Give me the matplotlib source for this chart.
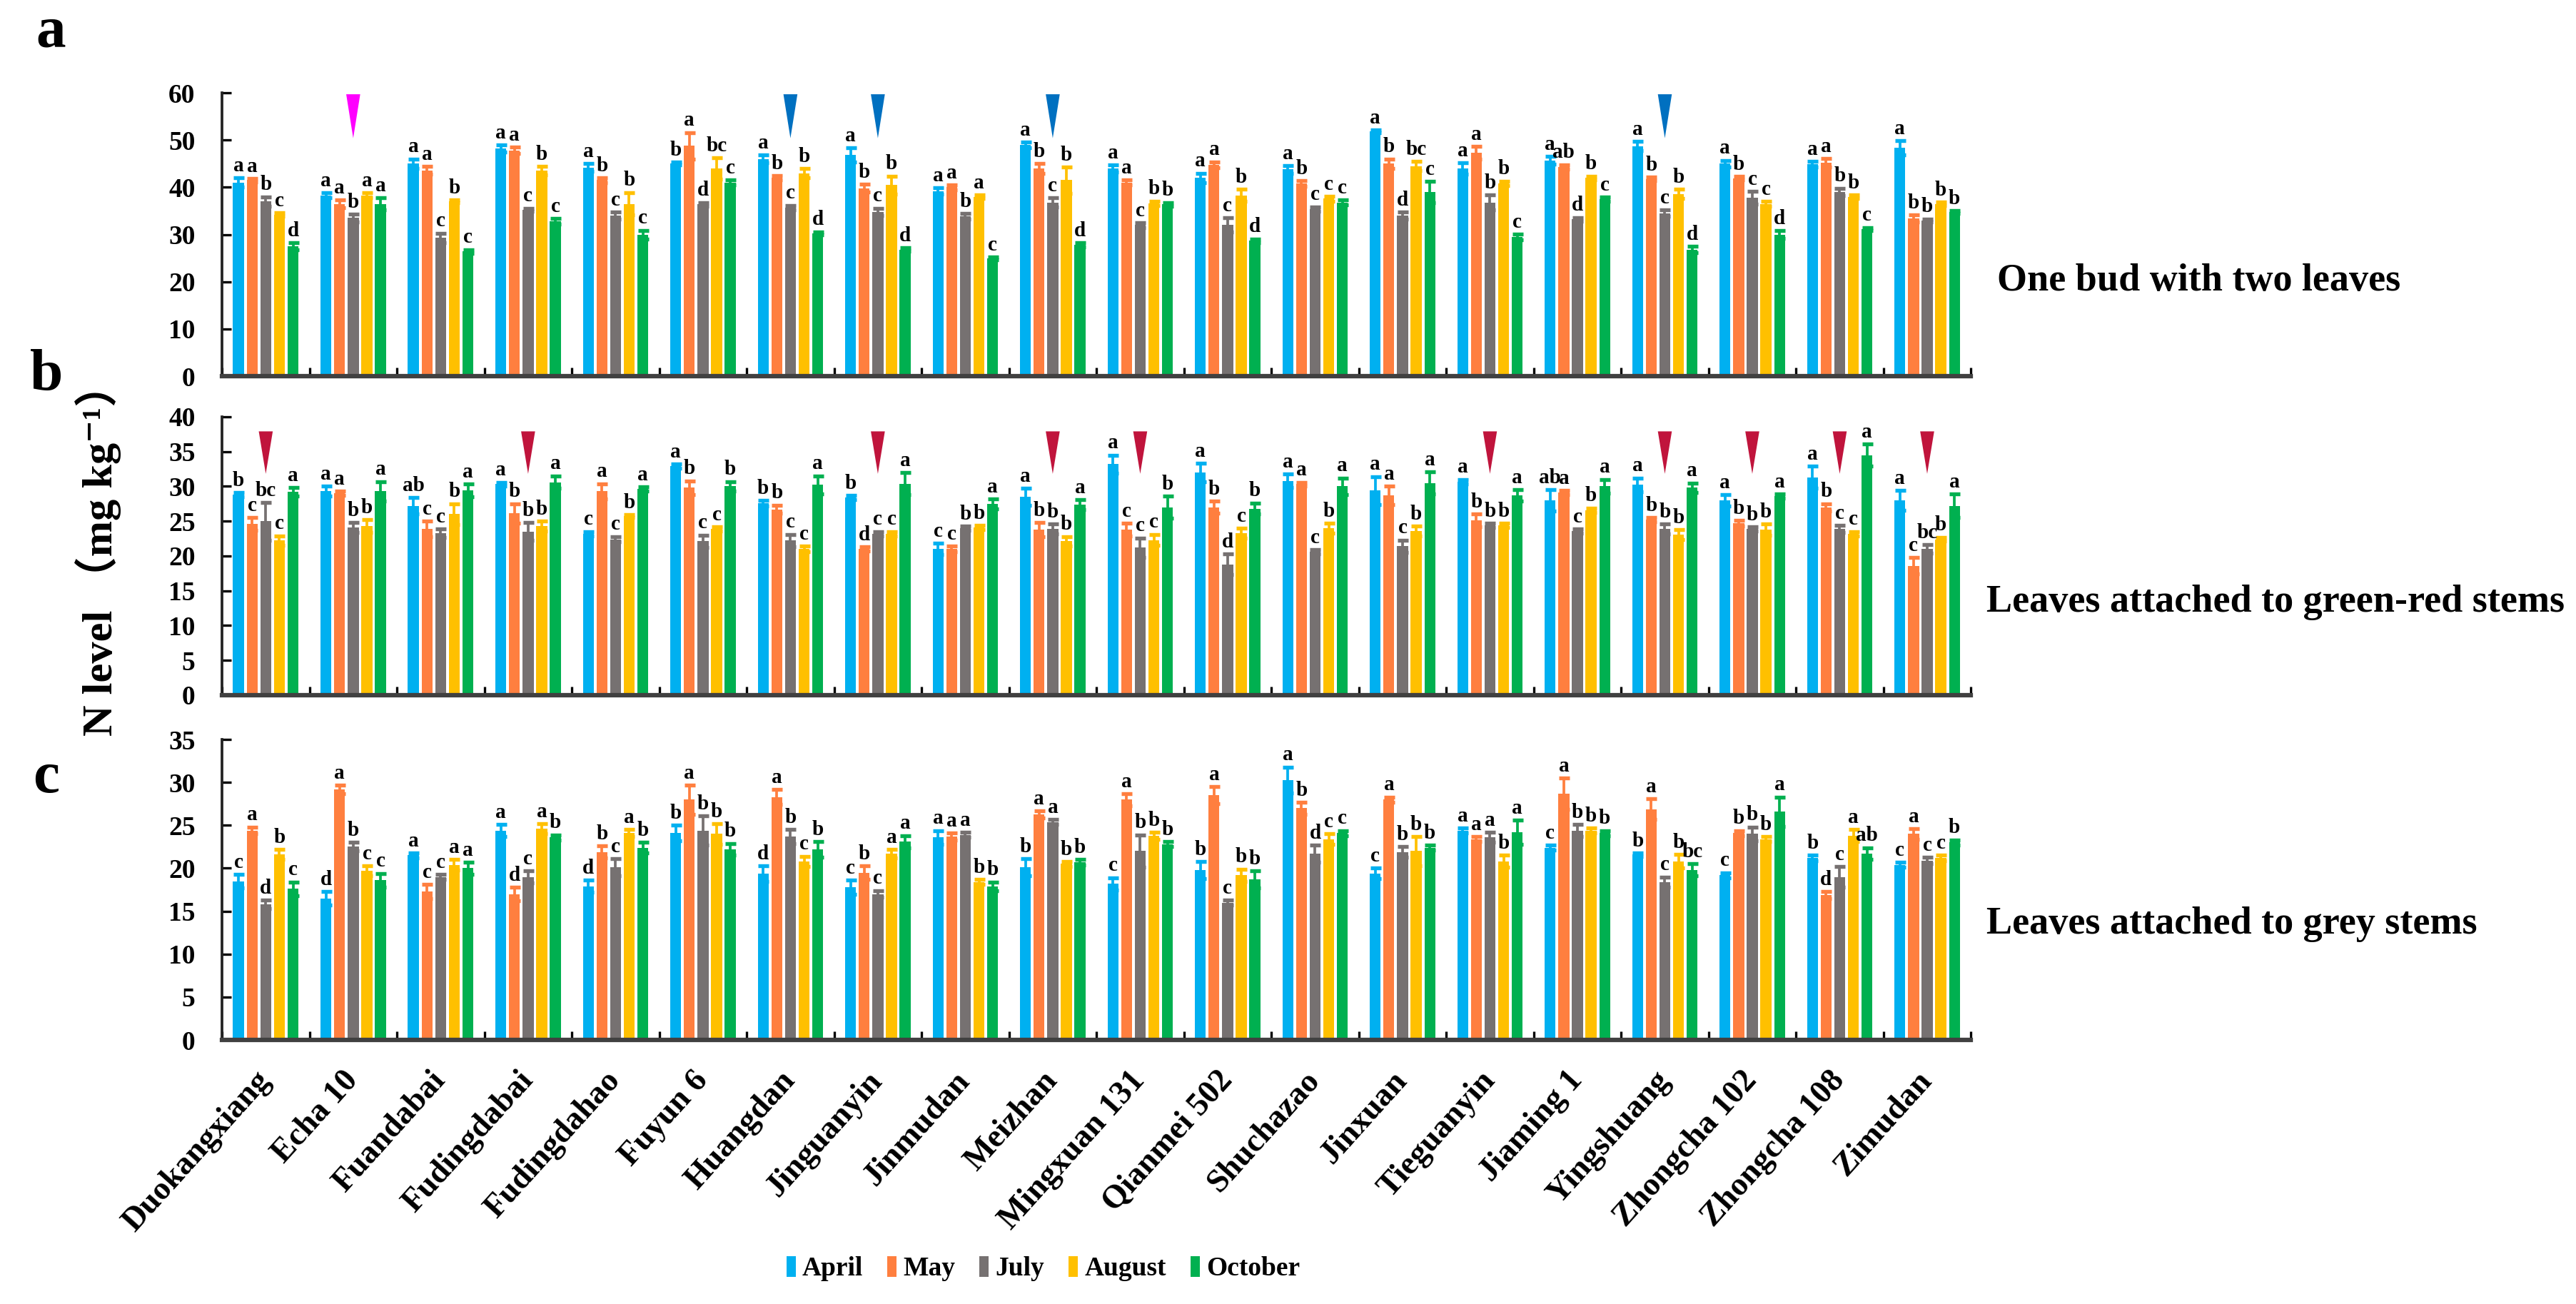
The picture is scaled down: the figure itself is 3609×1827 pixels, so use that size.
import numpy as np
import matplotlib
matplotlib.use("Agg")
import matplotlib.pyplot as plt
from matplotlib.patches import Patch

plt.rcParams['font.family'] = ['Liberation Serif', 'Noto Sans CJK SC', 'DejaVu Serif']
plt.rcParams['font.weight'] = 'bold'

# Categories and series
cultivars = ["Duokangxiang", "Echa 10", "Fuandabai", "Fudingdabai", "Fudingdahao",
             "Fuyun 6", "Huangdan", "Jinguanyin", "Jinmudan", "Meizhan",
             "Mingxuan 131", "Qianmei 502", "Shuchazao", "Jinxuan", "Tieguanyin",
             "Jiaming 1", "Yingshuang", "Zhongcha 102", "Zhongcha 108", "Zimudan"]
months = ["April", "May", "July", "August", "October"]
colors = ["#00B0F0", "#FF7F3F", "#767171", "#FFC000", "#00B050"]

# Panel a: one bud with two leaves (rows = cultivars, cols = months)
a_vals = [[41.0, 41.5, 37.0, 34.2, 27.5], [38.3, 36.5, 33.5, 38.3, 36.5],
          [45.0, 43.6, 29.3, 37.0, 26.4], [48.2, 47.8, 35.3, 43.5, 32.8],
          [44.2, 41.5, 34.0, 36.5, 30.0], [45.0, 48.8, 36.4, 44.0, 41.0],
          [46.0, 42.0, 35.7, 43.0, 30.3], [46.8, 39.8, 34.8, 40.5, 26.8],
          [39.2, 40.0, 33.8, 38.0, 24.9], [49.0, 44.0, 36.8, 41.5, 27.8],
          [44.0, 41.0, 32.0, 36.6, 36.4], [42.0, 44.8, 32.0, 38.3, 28.7],
          [43.8, 40.8, 35.4, 37.6, 36.8], [51.8, 45.0, 34.0, 44.5, 39.0],
          [44.0, 47.3, 36.8, 40.8, 29.5], [45.7, 44.3, 33.2, 42.0, 37.5],
          [48.7, 41.8, 34.5, 38.6, 26.8], [45.0, 41.9, 37.8, 36.5, 30.0],
          [44.9, 45.2, 39.0, 38.0, 31.2], [48.4, 33.4, 33.0, 36.5, 34.8]]
a_err = [[1.0, 0.4, 1.0, 0.4, 0.8], [0.5, 0.8, 0.8, 0.5, 1.3],
         [1.0, 0.8, 1.0, 0.3, 0.4], [0.8, 0.7, 0.3, 0.9, 0.6],
         [0.8, 0.5, 0.7, 2.4, 0.9], [0.3, 2.8, 0.4, 2.2, 0.5],
         [0.8, 0.5, 0.5, 1.0, 0.3], [1.5, 0.8, 0.8, 1.9, 0.4],
         [0.7, 0.5, 0.6, 0.4, 0.3], [0.6, 1.0, 1.0, 2.8, 0.4],
         [0.7, 0.5, 0.5, 0.5, 0.4], [1.0, 0.6, 1.5, 1.3, 0.4],
         [0.8, 0.6, 0.5, 0.5, 0.5], [0.3, 1.0, 0.7, 1.0, 2.2],
         [1.2, 1.4, 1.6, 0.5, 0.6], [0.8, 0.5, 0.4, 0.4, 0.4],
         [1.0, 0.4, 0.7, 1.0, 0.7], [0.7, 0.4, 1.3, 0.5, 0.8],
         [0.6, 0.9, 0.8, 0.4, 0.3], [1.5, 0.7, 0.3, 0.4, 0.3]]
a_letters = ["a a b c d", "a a b a a", "a a c b c", "a a c b c", "a b c b c",
             "b a d bc c", "a b c b d", "a b c b d", "a a b a c", "a b c b d",
             "a a c b b", "a a c b d", "a b c c c", "a b d bc c", "a a b b c",
             "a ab d b c", "a b c b d", "a b c c d", "a a b b c", "a b b b b"]

# Panel b: leaves attached to green-red stems
b_vals = [[28.8, 24.6, 25.0, 22.2, 29.2], [29.3, 29.0, 24.1, 24.3, 29.3],
          [27.2, 23.9, 23.3, 26.0, 29.4], [30.3, 26.1, 23.5, 24.3, 30.6],
          [23.2, 29.3, 22.4, 25.7, 29.6], [32.9, 29.8, 22.1, 23.9, 30.0],
          [27.6, 26.7, 22.2, 21.0, 30.2], [28.4, 21.0, 23.2, 23.2, 30.4],
          [21.0, 21.0, 24.0, 24.1, 27.5], [28.5, 23.8, 23.9, 22.1, 27.4],
          [33.2, 23.8, 21.2, 22.3, 27.0], [32.0, 27.0, 18.8, 23.3, 26.8],
          [30.8, 30.3, 20.6, 24.0, 30.0], [29.4, 28.7, 21.4, 23.6, 30.5],
          [30.7, 25.1, 24.4, 24.4, 28.7], [28.0, 29.1, 23.6, 26.6, 30.0],
          [30.2, 25.2, 23.9, 23.1, 29.8], [28.0, 24.7, 23.9, 23.8, 28.6],
          [31.3, 27.0, 23.9, 23.2, 34.5], [28.0, 18.6, 21.0, 22.4, 27.2]]
b_err = [[0.3, 0.9, 2.7, 0.7, 0.6], [0.7, 0.3, 0.7, 0.9, 1.4],
         [1.2, 1.1, 0.6, 1.5, 0.9], [0.3, 1.4, 1.3, 0.7, 0.9],
         [0.3, 1.1, 0.4, 0.2, 0.3], [0.3, 1.0, 0.9, 0.3, 0.7],
         [0.4, 0.6, 0.9, 0.4, 1.3], [0.3, 0.3, 0.3, 0.3, 1.6],
         [0.8, 0.4, 0.3, 0.3, 0.7], [1.2, 1.0, 0.7, 0.7, 0.7],
         [1.3, 0.9, 1.4, 0.8, 1.6], [1.3, 0.9, 1.5, 0.7, 0.8],
         [1.0, 0.3, 0.3, 0.7, 1.2], [2.0, 1.3, 0.9, 0.7, 1.6],
         [0.3, 0.9, 0.3, 0.3, 0.8], [1.5, 0.3, 0.3, 0.3, 1.0],
         [1.0, 0.3, 0.7, 0.7, 0.7], [0.8, 0.4, 0.3, 0.8, 0.3],
         [1.6, 0.5, 0.5, 0.3, 1.6], [1.4, 1.2, 0.6, 0.3, 1.7]]
b_letters = ["b c bc c a", "a a b b a", "ab c c b a", "a b b b a", "c a c b a",
             "a b c c b", "b b c c a", "b d c c a", "c c b b a", "a b b b a",
             "a c c c b", "a b d c b", "a a c b a", "a a c b a", "a b b b a",
             "ab a c b a", "a b b b a", "a b b b a", "a b c c a", "a c bc b a"]

# Panel c: leaves attached to grey stems
c_vals = [[18.5, 24.4, 15.8, 21.6, 17.6], [16.5, 29.2, 22.5, 19.7, 18.6],
          [21.5, 17.3, 19.0, 20.4, 20.0], [24.4, 17.0, 19.0, 24.6, 23.6],
          [17.9, 21.9, 20.1, 24.1, 22.4], [24.1, 28.0, 24.4, 24.0, 22.2],
          [19.4, 28.3, 23.7, 20.8, 22.2], [17.8, 19.5, 17.0, 21.7, 23.1],
          [23.6, 23.7, 23.9, 18.4, 17.9], [20.1, 26.3, 25.4, 20.5, 20.7],
          [18.2, 28.0, 22.0, 23.8, 22.8], [19.8, 28.5, 16.0, 19.2, 18.7],
          [30.3, 27.0, 21.7, 23.4, 24.1], [19.4, 28.0, 21.9, 22.0, 22.4],
          [24.4, 23.4, 23.6, 20.8, 24.2], [22.4, 28.7, 24.4, 24.4, 24.1],
          [21.6, 26.9, 18.4, 20.8, 19.8], [19.2, 24.1, 24.0, 23.4, 26.6],
          [21.2, 16.9, 19.0, 23.8, 21.7], [20.4, 24.0, 20.9, 21.2, 23.0]]
c_err = [[0.8, 0.4, 0.5, 0.6, 0.8], [0.8, 0.5, 0.5, 0.6, 0.8],
         [0.3, 0.8, 0.3, 0.6, 0.7], [0.7, 0.8, 0.7, 0.6, 0.3],
         [0.7, 0.7, 1.0, 0.4, 0.6], [0.9, 1.7, 1.7, 1.2, 0.7],
         [0.9, 0.9, 0.8, 0.6, 0.9], [0.8, 0.8, 0.4, 0.5, 0.7],
         [0.8, 0.4, 0.3, 0.3, 0.5], [1.0, 0.4, 0.3, 0.3, 0.3],
         [0.7, 0.7, 1.9, 0.4, 0.3], [1.0, 1.0, 0.3, 0.7, 1.0],
         [1.5, 0.7, 1.0, 0.6, 0.3], [0.6, 0.3, 0.6, 1.7, 0.3],
         [0.3, 0.3, 0.6, 0.7, 1.4], [0.3, 1.8, 0.7, 0.3, 0.3],
         [0.2, 1.2, 0.6, 0.8, 0.7], [0.3, 0.3, 0.8, 0.3, 1.7],
         [0.3, 0.4, 1.2, 0.7, 0.7], [0.3, 0.6, 0.4, 0.3, 0.3]]
c_letters = ["c a d b c", "d a b c c", "a c c a a", "a d c a b", "d b c a b",
             "b a b b b", "d a b c b", "c b c a a", "a a a b b", "b a a b b",
             "c a b b b", "b a c b b", "a b d c c", "c a b b b", "a a a b a",
             "c a b b b", "b a c b bc", "c b b b a", "b d c a ab", "c a c c b"]

# Arrowhead markers (cultivar indices)
a_pink_marks = [1]
a_blue_marks = [6, 7, 9, 16]
b_red_marks = [0, 3, 7, 9, 10, 14, 16, 17, 18, 19]

x = np.arange(len(cultivars)) + 0.5
offsets = (np.arange(5) - 2) * 0.156
width = 0.125

fig = plt.figure(figsize=(3609 / 300, 1827 / 300), dpi=300)


def draw_panel(ax, vals, errs, letters, ymax, ystep):
    vals = np.array(vals)
    errs = np.array(errs)
    for j in range(5):
        ax.bar(x + offsets[j], vals[:, j], width, color=colors[j],
               yerr=errs[:, j], zorder=2,
               error_kw=dict(ecolor=colors[j], elinewidth=0.9, capsize=1.8, capthick=1.3))
        for i in range(len(cultivars)):
            ax.annotate(letters[i].split()[j], (x[i] + offsets[j], vals[i, j] + errs[i, j]),
                        xytext=(0, 0.8), textcoords='offset points',
                        ha='center', va='bottom', fontsize=7)
    ax.set_xlim(0, len(cultivars))
    ax.set_ylim(0, ymax)
    ax.set_yticks(np.arange(0, ymax + 1, ystep))
    ax.set_xticks(np.arange(0, len(cultivars) + 1))
    ax.set_xticklabels([])
    ax.tick_params(axis='both', which='major', direction='in', length=3, width=0.8,
                   labelsize=9, pad=9)
    for s in ['top', 'right']:
        ax.spines[s].set_visible(False)
    ax.spines['left'].set_linewidth(0.9)
    ax.spines['left'].set_color('#222222')
    ax.spines['bottom'].set_linewidth(1.5)
    ax.spines['bottom'].set_color('#404040')


def wedge(ax, idx, top, tip, color):
    w = 0.08
    ax.fill([x[idx] - w, x[idx] + w, x[idx]], [top, top, tip], color=color,
            lw=0, clip_on=False, zorder=3)


ax_a = fig.add_axes([0.0862, 0.7115, 0.6789, 0.2173])
ax_b = fig.add_axes([0.0862, 0.4669, 0.6789, 0.2135])
ax_c = fig.add_axes([0.0862, 0.2025, 0.6789, 0.2304])

draw_panel(ax_a, a_vals, a_err, a_letters, 60, 10)
draw_panel(ax_b, b_vals, b_err, b_letters, 40, 5)
draw_panel(ax_c, c_vals, c_err, c_letters, 35, 5)

for i in a_pink_marks:
    wedge(ax_a, i, 59.7, 50.4, '#FF00FF')
for i in a_blue_marks:
    wedge(ax_a, i, 59.7, 50.4, '#0070C0')
for i in b_red_marks:
    wedge(ax_b, i, 37.9, 31.8, '#C0143C')

ax_c.set_xticks(x, minor=True)
ax_c.set_xticklabels(cultivars, minor=True, rotation=48, ha='right', va='center',
                     rotation_mode='anchor', fontsize=11)
ax_c.tick_params(axis='x', which='minor', length=0, pad=12)

# Panel letters and tissue names
fig.text(0.0139, 0.9639, "a", fontsize=20, va='baseline')
fig.text(0.0116, 0.7011, "b", fontsize=20, va='baseline')
fig.text(0.0127, 0.3924, "c", fontsize=20, va='baseline')
fig.text(0.7753, 0.7772, "One bud with two leaves", fontsize=13, va='baseline')
fig.text(0.7711, 0.5309, "Leaves attached to green-red stems", fontsize=13, va='baseline')
fig.text(0.7711, 0.2841, "Leaves attached to grey stems", fontsize=13, va='baseline')
fig.text(0.0382, 0.5785, "N level （mg kg⁻¹）", fontsize=14.5, rotation=90,
         ha='center', va='center')

handles = [Patch(facecolor=c, edgecolor='none') for c in colors]
fig.legend(handles, months, loc='center', bbox_to_anchor=(0.405, 0.027), ncol=5,
           frameon=False, fontsize=9, handlelength=0.35, handleheight=0.8,
           handletextpad=0.25, columnspacing=0.9)

fig.savefig("out.png", dpi=300)
